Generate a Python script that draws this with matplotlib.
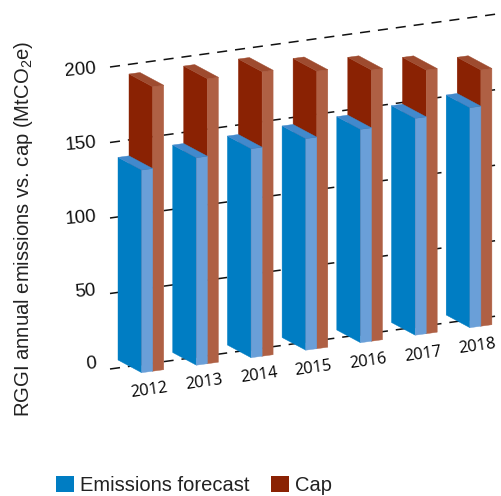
import numpy as np
import matplotlib
matplotlib.use('Agg')
from matplotlib import pyplot as plt
from matplotlib.patches import Patch, Polygon

years = ['2012', '2013', '2014', '2015', '2016', '2017', '2018']
emissions = [134.2, 137.4, 138.4, 140.1, 141.3, 143.6, 145.7]
cap = [188.4, 188.7, 188.4, 183.8, 179.6, 174.6, 169.7]
grid_values = [0, 50, 100, 150, 200]

plt.rcParams['font.family'] = ['Liberation Sans', 'DejaVu Sans']
plt.rcParams['mathtext.fontset'] = 'custom'
plt.rcParams['mathtext.rm'] = 'Liberation Sans'
plt.rcParams['mathtext.default'] = 'regular'

# fake 3d: everything is placed on a sheared pixel plane
PX_PER_UNIT = 1.51
SLOT = np.array([54.7, -7.5])
ORIGIN = np.array([118.0, 360.0])
WIDTH = np.array([11.0, -1.5])
DEPTH = np.array([23.7, 12.7])


def bar_point(i, w, d, value):
    p = ORIGIN + i * SLOT + w * WIDTH + d * DEPTH
    return (p[0], p[1] - value * PX_PER_UNIT)


def draw_bar(ax, i, w, value, front, side, top, z):
    faces = [
        ([bar_point(i, w, 0, 0), bar_point(i, w, 1, 0),
          bar_point(i, w, 1, value), bar_point(i, w, 0, value)], front),
        ([bar_point(i, w, 1, 0), bar_point(i, w + 1, 1, 0),
          bar_point(i, w + 1, 1, value), bar_point(i, w, 1, value)], side),
        ([bar_point(i, w, 0, value), bar_point(i, w + 1, 0, value),
          bar_point(i, w + 1, 1, value), bar_point(i, w, 1, value)], top),
    ]
    for pts, col in faces:
        ax.add_patch(Polygon(pts, closed=True, facecolor=col, edgecolor=col,
                             linewidth=0.3, zorder=z))


fig = plt.figure(figsize=(5.01, 4.96), dpi=100)
ax = fig.add_axes([0, 0, 1, 1])
ax.set_xlim(0, 501)
ax.set_ylim(496, 0)
ax.axis('off')

# gridlines
for v in grid_values:
    xs = np.array([110.0, 499.0])
    ys = 369 - v * PX_PER_UNIT - 0.137 * (xs - 110)
    ax.plot(xs, ys, color='#111111', lw=1.1, zorder=1, dashes=(6.6, 5.2))

for i in range(len(years)):
    draw_bar(ax, i, 1, cap[i], '#8a2203', '#af6044', '#9e4b2f', 3 + i)
    draw_bar(ax, i, 0, emissions[i], '#007dc3', '#6a9fd8', '#4289cc', 3 + i)

# y tick labels sit a little off the gridlines
for v in grid_values:
    ax.text(96, 364 - v * 1.475, str(v), ha='right', va='center',
            fontsize=13.5, rotation=5, rotation_mode='anchor', color='#111111')

# year labels
for i, y in enumerate(years):
    ax.text(149.5 + 54.7 * i, 390 - 7.2 * i, y, ha='center', va='center',
            fontsize=11.8, rotation=8, family=['Open Sans', 'DejaVu Sans'], color='#000000')

ax.text(24, 229, r'RGGI annual emissions vs. cap (MtCO$_2$e)', rotation=90,
        ha='center', va='center', fontsize=14.6, color='#222222')

handles = [Patch(facecolor='#007dc3', label='Emissions forecast'),
           Patch(facecolor='#8a2203', label='Cap')]
ax.legend(handles=handles, loc='lower left', bbox_to_anchor=(56 / 501, 1 / 496),
          ncol=2, frameon=False, fontsize=14.5, handlelength=0.9, handleheight=0.9,
          handletextpad=0.3, columnspacing=1.05, borderaxespad=0, borderpad=0,
          labelcolor='#222222')

fig.savefig('out.png', dpi=100)
